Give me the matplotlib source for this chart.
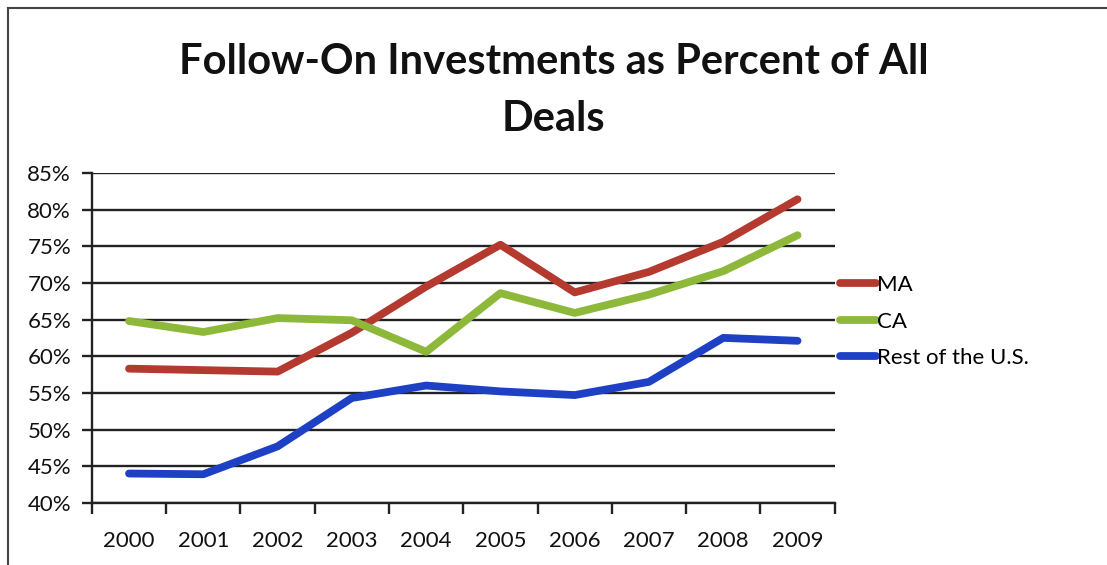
import matplotlib
matplotlib.use("Agg")
import matplotlib.pyplot as plt
from matplotlib.lines import Line2D
from matplotlib.ticker import FixedLocator, FuncFormatter

years = ["2000", "2001", "2002", "2003", "2004", "2005", "2006", "2007", "2008", "2009"]
ma = [58.3, 58.1, 57.9, 63.2, 69.5, 75.2, 68.7, 71.5, 75.6, 81.4]
ca = [64.8, 63.3, 65.2, 64.9, 60.6, 68.6, 65.9, 68.4, 71.6, 76.5]
rest_us = [44.0, 43.9, 47.7, 54.3, 56.0, 55.2, 54.7, 56.5, 62.5, 62.1]
series_names = ["MA", "CA", "Rest of the U.S."]
colors = ["#B43A30", "#8DB83A", "#1E40C4"]

plt.rcParams["font.family"] = ["Lato", "DejaVu Sans"]

fig = plt.figure(figsize=(11.07, 5.65), dpi=100)
ax = fig.add_axes([0.083, 0.110, 0.671, 0.584])

xs = [i + 0.5 for i in range(len(years))]
for vals, name, c in zip([ma, ca, rest_us], series_names, colors):
    ax.plot(xs, vals, color=c, lw=5.6, solid_capstyle="round",
            solid_joinstyle="round", label=name, zorder=3)

ax.set_xlim(0, len(years))
ax.set_ylim(40, 85)
ax.set_yticks(range(40, 86, 5))
ax.yaxis.set_major_formatter(FuncFormatter(lambda v, p: f"{int(v)}%"))
ax.grid(axis="y", color="#222222", lw=1.7, zorder=1)
ax.set_axisbelow(True)

ax.xaxis.set_major_locator(FixedLocator(range(len(years) + 1)))
ax.xaxis.set_minor_locator(FixedLocator(xs))
ax.set_xticklabels([])
ax.set_xticklabels(years, minor=True)
ax.tick_params(axis="x", which="major", direction="out", length=8, width=1.7, color="#222222")
ax.tick_params(axis="x", which="minor", length=0, pad=20, labelsize=16, labelcolor="#111111")
ax.tick_params(axis="y", direction="out", length=7, width=1.7, color="#222222",
               labelsize=16, labelcolor="#111111", pad=8)

for side in ["top", "right"]:
    ax.spines[side].set_visible(False)
for side in ["left", "bottom"]:
    ax.spines[side].set_color("#222222")
    ax.spines[side].set_linewidth(1.7)

handles = [Line2D([], [], color=c, lw=5.6, solid_capstyle="round") for c in colors]
fig.legend(handles, series_names, loc="upper left", bbox_to_anchor=(0.759, 0.513),
           frameon=False, fontsize=16, handlelength=1.6, handletextpad=0.05,
           labelspacing=0.74, borderaxespad=0, borderpad=0)

fig.text(0.5, 0.84, "Follow-On Investments as Percent of All\nDeals", ha="center", va="center",
         fontsize=30, fontweight="bold", color="#111111", linespacing=1.6)

# chart frame edges
fig.add_artist(Line2D([0.0075, 0.0075], [0.0, 0.986], color="#444444", lw=1.5))
fig.add_artist(Line2D([0.0075, 1.0], [0.986, 0.986], color="#444444", lw=1.5))

fig.savefig("out.png", dpi=100)
